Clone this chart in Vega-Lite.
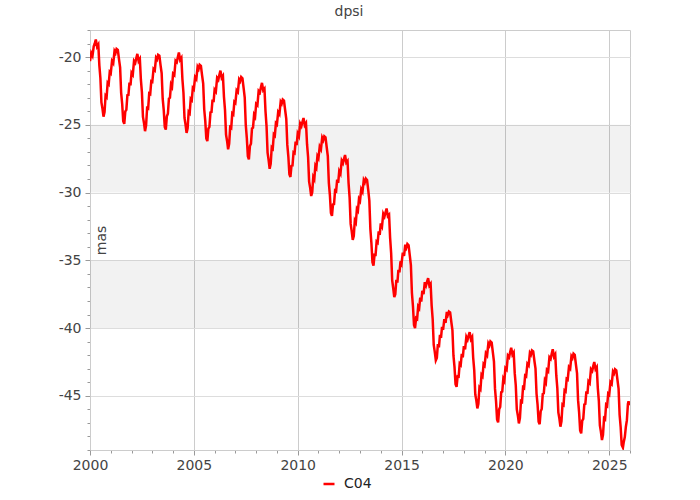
{
"$schema": "https://vega.github.io/schema/vega-lite/v6.json",
"width": 540, "height": 420,
"autosize": {"type": "none"},
"padding": {"left": 90, "top": 30, "right": 70, "bottom": 50},
"background": "white",
"title": {"text": "dpsi", "anchor": "middle", "frame": "group", "offset": 0, "baseline": "alphabetic", "dx": -11, "font": "DejaVu Sans", "fontSize": 14, "fontWeight": "normal", "color": "#444444"},
"config": {"view": {"stroke": "#cccccc"}, "axis": {"labelFont": "DejaVu Sans", "titleFont": "DejaVu Sans"}},
"resolve": {"axis": {"x": "independent", "y": "independent"}},
"layer": [
{
"data": {"values": [{"lo": -30, "hi": -25}, {"lo": -40, "hi": -35}]},
"mark": {"type": "rect", "fill": "#000000", "fillOpacity": 0.05},
"encoding": {
"x": {"datum": 2000, "type": "quantitative", "scale": {"domain": [2000, 2026], "nice": false, "zero": false},
 "axis": {"orient": "bottom", "values": [2000,2001,2002,2003,2004,2005,2006,2007,2008,2009,2010,2011,2012,2013,2014,2015,2016,2017,2018,2019,2020,2021,2022,2023,2024,2025,2026], "grid": false, "labels": false, "domain": false, "tickSize": 3, "tickColor": "#999999", "title": null}},
"x2": {"datum": 2026},
"y": {"field": "lo", "type": "quantitative", "scale": {"domain": [-49, -18], "nice": false, "zero": false},
 "axis": {"orient": "left", "values": [-49,-48,-47,-46,-45,-44,-43,-42,-41,-40,-39,-38,-37,-36,-35,-34,-33,-32,-31,-30,-29,-28,-27,-26,-25,-24,-23,-22,-21,-20,-19,-18], "grid": false, "labels": false, "domain": false, "tickSize": 3, "tickColor": "#999999", "title": null}},
"y2": {"field": "hi"}
}
},
{
"data": {"values": [
{"t":2000,"v":-20.3},{"t":2000.06,"v":-19.7},{"t":2000.12,"v":-19.9},{"t":2000.18,"v":-19.2},{"t":2000.23,"v":-19.0},{"t":2000.28,"v":-18.7},{"t":2000.34,"v":-19.23},{"t":2000.40,"v":-19.07},{"t":2000.45,"v":-20.61},{"t":2000.50,"v":-21.54},{"t":2000.55,"v":-23.35},{"t":2000.60,"v":-23.8},{"t":2000.65,"v":-24.4},{"t":2000.70,"v":-24.05},{"t":2000.75,"v":-22.85},{"t":2000.80,"v":-22.95},{"t":2000.85,"v":-21.9},{"t":2000.90,"v":-22.0},{"t":2000.95,"v":-21.1},
{"t":2001,"v":-21.2},{"t":2001.06,"v":-20.3},{"t":2001.12,"v":-20.45},{"t":2001.18,"v":-19.55},{"t":2001.23,"v":-19.7},{"t":2001.28,"v":-19.4},{"t":2001.34,"v":-19.47},{"t":2001.40,"v":-20.2},{"t":2001.45,"v":-20.76},{"t":2001.50,"v":-22.64},{"t":2001.55,"v":-23.46},{"t":2001.60,"v":-24.74},{"t":2001.65,"v":-24.93},{"t":2001.70,"v":-24.01},{"t":2001.75,"v":-23.89},{"t":2001.80,"v":-22.82},{"t":2001.85,"v":-22.8},{"t":2001.90,"v":-21.89},{"t":2001.95,"v":-22.08},
{"t":2002,"v":-21.16},{"t":2002.06,"v":-21.3},{"t":2002.12,"v":-20.29},{"t":2002.18,"v":-20.43},{"t":2002.23,"v":-20.07},{"t":2002.28,"v":-19.76},{"t":2002.34,"v":-20.29},{"t":2002.40,"v":-20.13},{"t":2002.45,"v":-21.67},{"t":2002.50,"v":-22.6},{"t":2002.55,"v":-24.41},{"t":2002.60,"v":-24.87},{"t":2002.65,"v":-25.47},{"t":2002.70,"v":-25.04},{"t":2002.75,"v":-23.76},{"t":2002.80,"v":-23.8},{"t":2002.85,"v":-22.68},{"t":2002.90,"v":-22.73},{"t":2002.95,"v":-21.79},
{"t":2003,"v":-21.83},{"t":2003.06,"v":-20.88},{"t":2003.12,"v":-20.98},{"t":2003.18,"v":-20.04},{"t":2003.23,"v":-20.16},{"t":2003.28,"v":-19.83},{"t":2003.34,"v":-19.9},{"t":2003.40,"v":-20.63},{"t":2003.45,"v":-21.19},{"t":2003.50,"v":-23.07},{"t":2003.55,"v":-23.89},{"t":2003.60,"v":-25.16},{"t":2003.65,"v":-25.35},{"t":2003.70,"v":-24.37},{"t":2003.75,"v":-24.18},{"t":2003.80,"v":-23.06},{"t":2003.85,"v":-22.99},{"t":2003.90,"v":-22.03},{"t":2003.95,"v":-22.19},
{"t":2004,"v":-21.23},{"t":2004.06,"v":-21.33},{"t":2004.12,"v":-20.27},{"t":2004.18,"v":-20.37},{"t":2004.23,"v":-19.99},{"t":2004.28,"v":-19.66},{"t":2004.34,"v":-20.2},{"t":2004.40,"v":-20.05},{"t":2004.45,"v":-21.64},{"t":2004.50,"v":-22.63},{"t":2004.55,"v":-24.49},{"t":2004.60,"v":-24.98},{"t":2004.65,"v":-25.6},{"t":2004.70,"v":-25.25},{"t":2004.75,"v":-24.04},{"t":2004.80,"v":-24.14},{"t":2004.85,"v":-23.09},{"t":2004.90,"v":-23.18},{"t":2004.95,"v":-22.28},
{"t":2005,"v":-22.38},{"t":2005.06,"v":-21.48},{"t":2005.12,"v":-21.62},{"t":2005.18,"v":-20.72},{"t":2005.23,"v":-20.87},{"t":2005.28,"v":-20.57},{"t":2005.34,"v":-20.65},{"t":2005.40,"v":-21.38},{"t":2005.45,"v":-21.96},{"t":2005.50,"v":-23.87},{"t":2005.55,"v":-24.71},{"t":2005.60,"v":-26.01},{"t":2005.65,"v":-26.2},{"t":2005.70,"v":-25.28},{"t":2005.75,"v":-25.15},{"t":2005.80,"v":-24.08},{"t":2005.85,"v":-24.06},{"t":2005.90,"v":-23.14},{"t":2005.95,"v":-23.33},
{"t":2006,"v":-22.41},{"t":2006.06,"v":-22.55},{"t":2006.12,"v":-21.53},{"t":2006.18,"v":-21.67},{"t":2006.23,"v":-21.31},{"t":2006.28,"v":-21.0},{"t":2006.34,"v":-21.53},{"t":2006.40,"v":-21.38},{"t":2006.45,"v":-22.94},{"t":2006.50,"v":-23.89},{"t":2006.55,"v":-25.72},{"t":2006.60,"v":-26.19},{"t":2006.65,"v":-26.8},{"t":2006.70,"v":-26.41},{"t":2006.75,"v":-25.17},{"t":2006.80,"v":-25.23},{"t":2006.85,"v":-24.15},{"t":2006.90,"v":-24.23},{"t":2006.95,"v":-23.3},
{"t":2007,"v":-23.38},{"t":2007.06,"v":-22.45},{"t":2007.12,"v":-22.57},{"t":2007.18,"v":-21.65},{"t":2007.23,"v":-21.78},{"t":2007.28,"v":-21.47},{"t":2007.34,"v":-21.56},{"t":2007.40,"v":-22.33},{"t":2007.45,"v":-22.99},{"t":2007.50,"v":-25.01},{"t":2007.55,"v":-25.96},{"t":2007.60,"v":-27.32},{"t":2007.65,"v":-27.55},{"t":2007.70,"v":-26.57},{"t":2007.75,"v":-26.39},{"t":2007.80,"v":-25.27},{"t":2007.85,"v":-25.21},{"t":2007.90,"v":-24.26},{"t":2007.95,"v":-24.41},
{"t":2008,"v":-23.46},{"t":2008.06,"v":-23.56},{"t":2008.12,"v":-22.5},{"t":2008.18,"v":-22.61},{"t":2008.23,"v":-22.23},{"t":2008.28,"v":-21.9},{"t":2008.34,"v":-22.45},{"t":2008.40,"v":-22.33},{"t":2008.45,"v":-24.0},{"t":2008.50,"v":-25.09},{"t":2008.55,"v":-27.05},{"t":2008.60,"v":-27.6},{"t":2008.65,"v":-28.24},{"t":2008.70,"v":-27.88},{"t":2008.75,"v":-26.67},{"t":2008.80,"v":-26.76},{"t":2008.85,"v":-25.7},{"t":2008.90,"v":-25.79},{"t":2008.95,"v":-24.88},
{"t":2009,"v":-24.97},{"t":2009.06,"v":-24.06},{"t":2009.12,"v":-24.21},{"t":2009.18,"v":-23.3},{"t":2009.23,"v":-23.44},{"t":2009.28,"v":-23.14},{"t":2009.34,"v":-23.22},{"t":2009.40,"v":-23.96},{"t":2009.45,"v":-24.55},{"t":2009.50,"v":-26.48},{"t":2009.55,"v":-27.34},{"t":2009.60,"v":-28.65},{"t":2009.65,"v":-28.85},{"t":2009.70,"v":-28.03},{"t":2009.75,"v":-28.01},{"t":2009.80,"v":-27.03},{"t":2009.85,"v":-27.09},{"t":2009.90,"v":-26.24},{"t":2009.95,"v":-26.49},
{"t":2010,"v":-25.64},{"t":2010.06,"v":-25.84},{"t":2010.12,"v":-24.9},{"t":2010.18,"v":-25.09},{"t":2010.23,"v":-24.77},{"t":2010.28,"v":-24.5},{"t":2010.34,"v":-25.03},{"t":2010.40,"v":-24.88},{"t":2010.45,"v":-26.43},{"t":2010.50,"v":-27.36},{"t":2010.55,"v":-29.19},{"t":2010.60,"v":-29.65},{"t":2010.65,"v":-30.25},{"t":2010.70,"v":-29.97},{"t":2010.75,"v":-28.85},{"t":2010.80,"v":-29.01},{"t":2010.85,"v":-28.02},{"t":2010.90,"v":-28.17},{"t":2010.95,"v":-27.31},
{"t":2011,"v":-27.46},{"t":2011.06,"v":-26.61},{"t":2011.12,"v":-26.8},{"t":2011.18,"v":-25.95},{"t":2011.23,"v":-26.13},{"t":2011.28,"v":-25.85},{"t":2011.34,"v":-25.93},{"t":2011.40,"v":-26.69},{"t":2011.45,"v":-27.31},{"t":2011.50,"v":-29.28},{"t":2011.55,"v":-30.18},{"t":2011.60,"v":-31.51},{"t":2011.65,"v":-31.72},{"t":2011.70,"v":-30.88},{"t":2011.75,"v":-30.85},{"t":2011.80,"v":-29.85},{"t":2011.85,"v":-29.9},{"t":2011.90,"v":-29.04},{"t":2011.95,"v":-29.28},
{"t":2012,"v":-28.42},{"t":2012.06,"v":-28.61},{"t":2012.12,"v":-27.65},{"t":2012.18,"v":-27.83},{"t":2012.23,"v":-27.51},{"t":2012.28,"v":-27.23},{"t":2012.34,"v":-27.78},{"t":2012.40,"v":-27.66},{"t":2012.45,"v":-29.31},{"t":2012.50,"v":-30.37},{"t":2012.55,"v":-32.31},{"t":2012.60,"v":-32.85},{"t":2012.65,"v":-33.49},{"t":2012.70,"v":-33.2},{"t":2012.75,"v":-32.06},{"t":2012.80,"v":-32.21},{"t":2012.85,"v":-31.21},{"t":2012.90,"v":-31.34},{"t":2012.95,"v":-30.48},
{"t":2013,"v":-30.62},{"t":2013.06,"v":-29.75},{"t":2013.12,"v":-29.94},{"t":2013.18,"v":-29.08},{"t":2013.23,"v":-29.25},{"t":2013.28,"v":-28.97},{"t":2013.34,"v":-29.08},{"t":2013.40,"v":-29.86},{"t":2013.45,"v":-30.6},{"t":2013.50,"v":-32.71},{"t":2013.55,"v":-33.74},{"t":2013.60,"v":-35.15},{"t":2013.65,"v":-35.4},{"t":2013.70,"v":-34.59},{"t":2013.75,"v":-34.6},{"t":2013.80,"v":-33.62},{"t":2013.85,"v":-33.7},{"t":2013.90,"v":-32.86},{"t":2013.95,"v":-33.12},
{"t":2014,"v":-32.28},{"t":2014.06,"v":-32.49},{"t":2014.12,"v":-31.56},{"t":2014.18,"v":-31.76},{"t":2014.23,"v":-31.45},{"t":2014.28,"v":-31.18},{"t":2014.34,"v":-31.74},{"t":2014.40,"v":-31.63},{"t":2014.45,"v":-33.34},{"t":2014.50,"v":-34.48},{"t":2014.55,"v":-36.48},{"t":2014.60,"v":-37.06},{"t":2014.65,"v":-37.72},{"t":2014.70,"v":-37.5},{"t":2014.75,"v":-36.44},{"t":2014.80,"v":-36.65},{"t":2014.85,"v":-35.71},{"t":2014.90,"v":-35.89},{"t":2014.95,"v":-35.07},
{"t":2015,"v":-35.25},{"t":2015.06,"v":-34.44},{"t":2015.12,"v":-34.68},{"t":2015.18,"v":-33.85},{"t":2015.23,"v":-34.06},{"t":2015.28,"v":-33.8},{"t":2015.34,"v":-33.9},{"t":2015.40,"v":-34.67},{"t":2015.45,"v":-35.36},{"t":2015.50,"v":-37.41},{"t":2015.55,"v":-38.39},{"t":2015.60,"v":-39.77},{"t":2015.65,"v":-40.0},{"t":2015.70,"v":-39.26},{"t":2015.75,"v":-39.33},{"t":2015.80,"v":-38.41},{"t":2015.85,"v":-38.54},{"t":2015.90,"v":-37.75},{"t":2015.95,"v":-38.04},
{"t":2016,"v":-37.25},{"t":2016.06,"v":-37.5},{"t":2016.12,"v":-36.61},{"t":2016.18,"v":-36.85},{"t":2016.23,"v":-36.57},{"t":2016.28,"v":-36.32},{"t":2016.34,"v":-36.86},{"t":2016.40,"v":-36.73},{"t":2016.45,"v":-38.34},{"t":2016.50,"v":-39.35},{"t":2016.55,"v":-41.25},{"t":2016.60,"v":-41.76},{"t":2016.65,"v":-42.38},{"t":2016.70,"v":-42.2},{"t":2016.75,"v":-41.18},{"t":2016.80,"v":-41.42},{"t":2016.85,"v":-40.51},{"t":2016.90,"v":-40.72},{"t":2016.95,"v":-39.92},
{"t":2017,"v":-40.13},{"t":2017.06,"v":-39.34},{"t":2017.12,"v":-39.61},{"t":2017.18,"v":-38.8},{"t":2017.23,"v":-39.02},{"t":2017.28,"v":-38.78},{"t":2017.34,"v":-38.85},{"t":2017.40,"v":-39.59},{"t":2017.45,"v":-40.15},{"t":2017.50,"v":-42.04},{"t":2017.55,"v":-42.87},{"t":2017.60,"v":-44.15},{"t":2017.65,"v":-44.34},{"t":2017.70,"v":-43.56},{"t":2017.75,"v":-43.58},{"t":2017.80,"v":-42.63},{"t":2017.85,"v":-42.72},{"t":2017.90,"v":-41.9},{"t":2017.95,"v":-42.17},
{"t":2018,"v":-41.34},{"t":2018.06,"v":-41.57},{"t":2018.12,"v":-40.65},{"t":2018.18,"v":-40.86},{"t":2018.23,"v":-40.56},{"t":2018.28,"v":-40.3},{"t":2018.34,"v":-40.83},{"t":2018.40,"v":-40.66},{"t":2018.45,"v":-42.19},{"t":2018.50,"v":-43.1},{"t":2018.55,"v":-44.89},{"t":2018.60,"v":-45.34},{"t":2018.65,"v":-45.93},{"t":2018.70,"v":-45.59},{"t":2018.75,"v":-44.39},{"t":2018.80,"v":-44.5},{"t":2018.85,"v":-43.45},{"t":2018.90,"v":-43.56},{"t":2018.95,"v":-42.66},
{"t":2019,"v":-42.76},{"t":2019.06,"v":-41.87},{"t":2019.12,"v":-42.02},{"t":2019.18,"v":-41.13},{"t":2019.23,"v":-41.28},{"t":2019.28,"v":-40.98},{"t":2019.34,"v":-41.07},{"t":2019.40,"v":-41.83},{"t":2019.45,"v":-42.47},{"t":2019.50,"v":-44.47},{"t":2019.55,"v":-45.39},{"t":2019.60,"v":-46.74},{"t":2019.65,"v":-46.96},{"t":2019.70,"v":-46.0},{"t":2019.75,"v":-45.83},{"t":2019.80,"v":-44.73},{"t":2019.85,"v":-44.68},{"t":2019.90,"v":-43.74},{"t":2019.95,"v":-43.9},
{"t":2020,"v":-42.96},{"t":2020.06,"v":-43.07},{"t":2020.12,"v":-42.03},{"t":2020.18,"v":-42.15},{"t":2020.23,"v":-41.77},{"t":2020.28,"v":-41.45},{"t":2020.34,"v":-41.97},{"t":2020.40,"v":-41.81},{"t":2020.45,"v":-43.33},{"t":2020.50,"v":-44.22},{"t":2020.55,"v":-46.01},{"t":2020.60,"v":-46.45},{"t":2020.65,"v":-47.04},{"t":2020.70,"v":-46.64},{"t":2020.75,"v":-45.39},{"t":2020.80,"v":-45.45},{"t":2020.85,"v":-44.37},{"t":2020.90,"v":-44.43},{"t":2020.95,"v":-43.51},
{"t":2021,"v":-43.57},{"t":2021.06,"v":-42.64},{"t":2021.12,"v":-42.76},{"t":2021.18,"v":-41.84},{"t":2021.23,"v":-41.97},{"t":2021.28,"v":-41.65},{"t":2021.34,"v":-41.72},{"t":2021.40,"v":-42.45},{"t":2021.45,"v":-42.99},{"t":2021.50,"v":-44.85},{"t":2021.55,"v":-45.65},{"t":2021.60,"v":-46.92},{"t":2021.65,"v":-47.1},{"t":2021.70,"v":-46.14},{"t":2021.75,"v":-45.97},{"t":2021.80,"v":-44.86},{"t":2021.85,"v":-44.81},{"t":2021.90,"v":-43.87},{"t":2021.95,"v":-44.03},
{"t":2022,"v":-43.09},{"t":2022.06,"v":-43.2},{"t":2022.12,"v":-42.15},{"t":2022.18,"v":-42.27},{"t":2022.23,"v":-41.89},{"t":2022.28,"v":-41.57},{"t":2022.34,"v":-42.1},{"t":2022.40,"v":-41.94},{"t":2022.45,"v":-43.48},{"t":2022.50,"v":-44.41},{"t":2022.55,"v":-46.22},{"t":2022.60,"v":-46.68},{"t":2022.65,"v":-47.28},{"t":2022.70,"v":-46.88},{"t":2022.75,"v":-45.63},{"t":2022.80,"v":-45.69},{"t":2022.85,"v":-44.6},{"t":2022.90,"v":-44.67},{"t":2022.95,"v":-43.75},
{"t":2023,"v":-43.81},{"t":2023.06,"v":-42.88},{"t":2023.12,"v":-43.0},{"t":2023.18,"v":-42.08},{"t":2023.23,"v":-42.21},{"t":2023.28,"v":-41.89},{"t":2023.34,"v":-41.98},{"t":2023.40,"v":-42.73},{"t":2023.45,"v":-43.35},{"t":2023.50,"v":-45.32},{"t":2023.55,"v":-46.23},{"t":2023.60,"v":-47.56},{"t":2023.65,"v":-47.77},{"t":2023.70,"v":-46.84},{"t":2023.75,"v":-46.7},{"t":2023.80,"v":-45.63},{"t":2023.85,"v":-45.6},{"t":2023.90,"v":-44.68},{"t":2023.95,"v":-44.86},
{"t":2024,"v":-43.94},{"t":2024.06,"v":-44.06},{"t":2024.12,"v":-43.04},{"t":2024.18,"v":-43.17},{"t":2024.23,"v":-42.81},{"t":2024.28,"v":-42.5},{"t":2024.34,"v":-43.03},{"t":2024.40,"v":-42.88},{"t":2024.45,"v":-44.43},{"t":2024.50,"v":-45.37},{"t":2024.55,"v":-47.19},{"t":2024.60,"v":-47.66},{"t":2024.65,"v":-48.26},{"t":2024.70,"v":-47.88},{"t":2024.75,"v":-46.66},{"t":2024.80,"v":-46.73},{"t":2024.85,"v":-45.66},{"t":2024.90,"v":-45.74},{"t":2024.95,"v":-44.83},
{"t":2025,"v":-44.91},{"t":2025.06,"v":-43.99},{"t":2025.12,"v":-44.12},{"t":2025.18,"v":-43.21},{"t":2025.23,"v":-43.35},{"t":2025.28,"v":-43.04},{"t":2025.34,"v":-43.12},{"t":2025.40,"v":-43.87},{"t":2025.45,"v":-44.47},{"t":2025.50,"v":-46.42},{"t":2025.55,"v":-47.3},{"t":2025.60,"v":-48.62},{"t":2025.66,"v":-48.82},{"t":2025.70,"v":-48.4},{"t":2025.75,"v":-48.05},{"t":2025.80,"v":-47.3},{"t":2025.85,"v":-46.8},{"t":2025.90,"v":-45.6},{"t":2025.93,"v":-45.4},{"t":2025.97,"v":-45.7}
]},
"mark": {"type": "line", "color": "#ff0000", "strokeWidth": 2.5, "clip": true},
"encoding": {
"x": {"field": "t", "type": "quantitative",
 "axis": {"orient": "bottom", "values": [2000,2005,2010,2015,2020,2025], "format": "d", "grid": true, "gridColor": "#cccccc", "tickSize": 5, "tickColor": "#999999", "domainColor": "#cccccc", "labelFontSize": 14, "labelColor": "#444444", "labelPadding": 3, "labelFlush": false, "title": null}},
"y": {"field": "v", "type": "quantitative",
 "axis": {"orient": "left", "values": [-45,-40,-35,-30,-25,-20], "labelExpr": "'' + datum.value", "grid": true, "gridColor": "#dddddd", "tickSize": 5, "tickColor": "#999999", "domainColor": "#cccccc", "labelFontSize": 14, "labelColor": "#444444", "labelPadding": 4, "title": "mas", "titleX": 15, "titleY": 210, "titleAngle": 270, "titleAlign": "center", "titleBaseline": "alphabetic", "titleFontSize": 14, "titleFontWeight": "normal", "titleColor": "#444444"}},
"color": {"datum": "C04", "type": "nominal", "scale": {"range": ["#ff0000"]},
 "legend": {"orient": "none", "legendX": 232, "legendY": 447, "title": null, "direction": "horizontal", "symbolType": "stroke", "symbolSize": 121, "symbolStrokeWidth": 2.5, "labelFont": "DejaVu Sans", "labelFontSize": 14, "labelColor": "#222222", "labelOffset": 8}}
}
}
]
}
